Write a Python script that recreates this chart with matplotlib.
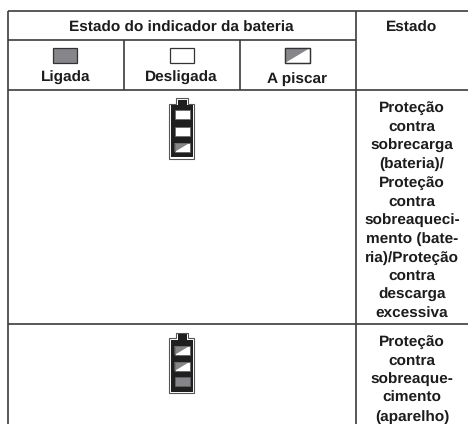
#!/usr/bin/env python3
# -*- coding: utf-8 -*-
"""
Tabela do indicador da bateria
"""
import matplotlib.pyplot as plt
from matplotlib.patches import Rectangle, Polygon

plt.rcParams['font.family'] = ['Liberation Sans', 'DejaVu Sans']
plt.rcParams['text.hinting'] = 'none'

titulo = 'Estado do indicador da bateria'
titulo_estado = 'Estado'
legenda = ['Ligada', 'Desligada', 'A piscar']
legenda_tipo = ['on', 'off', 'blink']
estado1 = ['Proteção', 'contra', 'sobrecarga', '(bateria)/', 'Proteção', 'contra',
           'sobreaqueci-', 'mento (bate-', 'ria)/Proteção', 'contra', 'descarga', 'excessiva']
estado2 = ['Proteção', 'contra', 'sobreaque-', 'cimento', '(aparelho)']
bateria1 = ['off', 'off', 'blink']
bateria2 = ['blink', 'blink', 'on']

CINZA = '#85858a'
LINHA = '#3c3c3c'
TEXTO = '#1c1c1c'
FS = 11.1

fig = plt.figure(figsize=(4.68, 4.24), dpi=100)
ax = fig.add_axes([0, 0, 1, 1])
ax.set_xlim(0, 468)
ax.set_ylim(424, 0)
ax.axis('off')

#%% Grelha
def hline(y, x0, x1):
    ax.plot([x0, x1], [y, y], color=LINHA, lw=1.2, solid_capstyle='butt')

def vline(x, y0, y1):
    ax.plot([x, x], [y0, y1], color=LINHA, lw=1.2, solid_capstyle='butt')

hline(11, 8, 468)
hline(40, 8, 355.5)
hline(90, 8, 468)
hline(324, 8, 468)
vline(8, 11, 424)
vline(355.5, 11, 424)
vline(124, 40, 90)
vline(239.5, 40, 90)

#%% Celulas
def celula(x, y, w, h, tipo, borda, lw):
    if tipo == 'on':
        ax.add_patch(Rectangle((x, y), w, h, fc=CINZA, ec=borda, lw=lw))
    elif tipo == 'off':
        ax.add_patch(Rectangle((x, y), w, h, fc='white', ec=borda, lw=lw))
    else:
        ax.add_patch(Rectangle((x, y), w, h, fc='white', ec=borda, lw=lw))
        ax.add_patch(Polygon([(x, y), (x + w, y), (x, y + h)], fc=CINZA, ec='none'))
        ax.add_patch(Rectangle((x, y), w, h, fc='none', ec=borda, lw=lw))

def bateria(topo, celulas, ys):
    # contorno fino + corpo preto
    contorno = [(169, topo + 5.5), (176, topo + 5.5), (176, topo), (188, topo),
                (188, topo + 5.5), (194, topo + 5.5), (194, topo + 60.5), (169, topo + 60.5)]
    ax.add_patch(Polygon(contorno, closed=True, fc='white', ec='#555555', lw=0.8))
    corpo = [(170.5, topo + 7), (177.5, topo + 7), (177.5, topo + 1.5), (186.5, topo + 1.5),
             (186.5, topo + 7), (192.5, topo + 7), (192.5, topo + 59), (170.5, topo + 59)]
    ax.add_patch(Polygon(corpo, closed=True, fc='#1f1f1f', ec='none'))
    for tipo, y in zip(celulas, ys):
        celula(174.5, y, 15, 9, tipo, '#666666', 0.5)

bateria(98, bateria1, [110, 127, 143])
bateria(332.5, bateria2, [346, 362, 377])

#%% Legenda
centros = [66, 181.5, 297.5]
larg = [24, 24, 25]
base_y = [82, 82, 83]
for cx, w, nome, tipo, y in zip(centros, larg, legenda, legenda_tipo, base_y):
    celula(cx - w / 2 - 1 if tipo == 'on' else cx - w / 2, 48, w, 15, tipo, '#333333', 0.9)
    ax.text(cx, y, nome, ha='center', va='baseline', fontsize=FS, fontweight='bold', color=TEXTO)

#%% Textos
ax.text(181.5, 32, titulo, ha='center', va='baseline', fontsize=FS, fontweight='bold', color=TEXTO)
ax.text(412, 32, titulo_estado, ha='center', va='baseline', fontsize=FS, fontweight='bold', color=TEXTO)

for i, linha in enumerate(estado1):
    ax.text(412, 112 + i * 18.7, linha, ha='center', va='baseline', fontsize=FS, fontweight='bold', color=TEXTO)
for i, linha in enumerate(estado2):
    ax.text(412, 346 + i * 18.6, linha, ha='center', va='baseline', fontsize=FS, fontweight='bold', color=TEXTO)

plt.savefig('out.png', dpi=100)
